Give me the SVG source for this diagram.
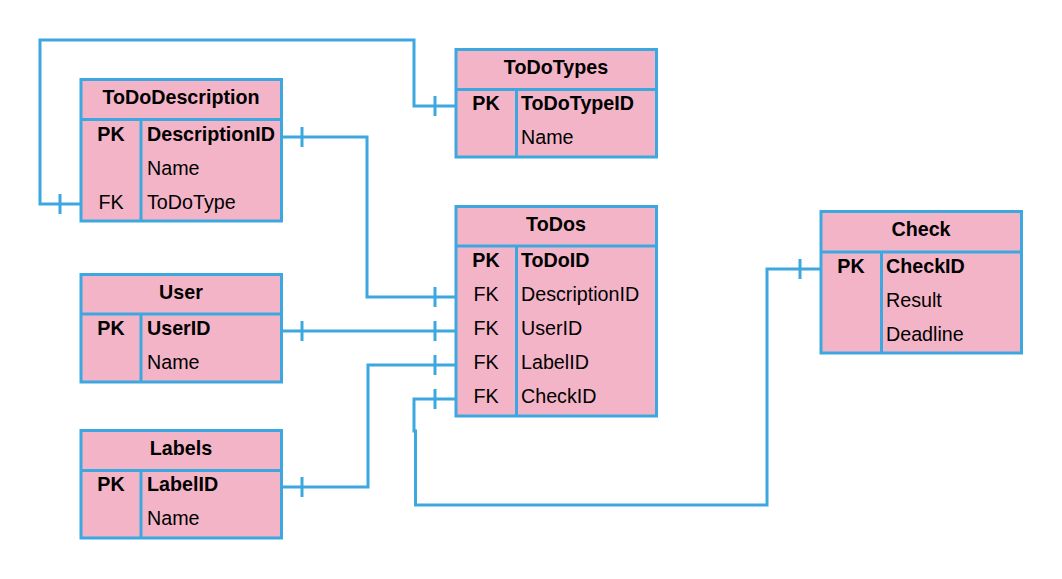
<svg xmlns="http://www.w3.org/2000/svg" width="1062" height="579" viewBox="0 0 1062 579">
<style>
.box{fill:#F4B4C8;stroke:#3DA8DF;stroke-width:3}
.sep{stroke:#3DA8DF;stroke-width:3;fill:none}
.con{stroke:#3DA8DF;stroke-width:3;fill:none}
text{font-family:"Liberation Sans",Arial,sans-serif;font-size:19.7px;fill:#000}
.h{font-weight:bold;text-anchor:middle}
.k{text-anchor:middle}
.b{font-weight:bold}
</style>
<rect width="1062" height="579" fill="#fff"/>
<g id="connectors">
<path class="con" d="M456,106 H414 V40 H40 V204 H81"/>
<path class="con" d="M435,96 V116 M60,194 V214"/>
<path class="con" d="M282,137 H367 V297 H456"/>
<path class="con" d="M302,127 V147 M435,287 V307"/>
<path class="con" d="M282,331 H456"/>
<path class="con" d="M302,321 V341 M435,321 V341"/>
<path class="con" d="M282,487 H368 V365 H456"/>
<path class="con" d="M302,477 V497 M435,355 V375"/>
<path class="con" d="M456,399 H414 V431 H415.5 V505 H767 V269 H821"/>
<path class="con" d="M435,389 V409 M800,259 V279"/>
</g>
<g id="ToDoDescription">
<rect class="box" x="81" y="79.5" width="200.5" height="141.5"/>
<path class="sep" d="M81,119.5 H281.5 M141,119.5 V221"/>
<text class="h" x="181" y="104">ToDoDescription</text>
<text class="k b" x="111" y="140.5">PK</text>
<text class="b" x="147" y="140.5">DescriptionID</text>
<text x="147" y="174.5">Name</text>
<text class="k" x="111" y="208.5">FK</text>
<text x="147" y="208.5">ToDoType</text>
</g>
<g id="ToDoTypes">
<rect class="box" x="456" y="49.5" width="200.5" height="107.5"/>
<path class="sep" d="M456,89.5 H656.5 M516.5,89.5 V157"/>
<text class="h" x="556" y="73.5">ToDoTypes</text>
<text class="k b" x="486" y="110">PK</text>
<text class="b" x="521" y="110">ToDoTypeID</text>
<text x="521" y="144">Name</text>
</g>
<g id="ToDos">
<rect class="box" x="456" y="206.5" width="200.5" height="209.5"/>
<path class="sep" d="M456,246 H656.5 M516.5,246 V416"/>
<text class="h" x="556" y="230.5">ToDos</text>
<text class="k b" x="486" y="267">PK</text>
<text class="b" x="521" y="267">ToDoID</text>
<text class="k" x="486" y="301">FK</text>
<text x="521" y="301">DescriptionID</text>
<text class="k" x="486" y="335">FK</text>
<text x="521" y="335">UserID</text>
<text class="k" x="486" y="369">FK</text>
<text x="521" y="369">LabelID</text>
<text class="k" x="486" y="403">FK</text>
<text x="521" y="403">CheckID</text>
</g>
<g id="Check">
<rect class="box" x="821" y="211.5" width="200.5" height="141.5"/>
<path class="sep" d="M821,252 H1021.5 M881.5,252 V353"/>
<text class="h" x="921" y="235.5">Check</text>
<text class="k b" x="851" y="272.5">PK</text>
<text class="b" x="886" y="272.5">CheckID</text>
<text x="886" y="306.5">Result</text>
<text x="886" y="340.5">Deadline</text>
</g>
<g id="User">
<rect class="box" x="81" y="274.5" width="200.5" height="107.5"/>
<path class="sep" d="M81,314 H281.5 M141,314 V382"/>
<text class="h" x="181" y="298.5">User</text>
<text class="k b" x="111" y="335">PK</text>
<text class="b" x="147" y="335">UserID</text>
<text x="147" y="369">Name</text>
</g>
<g id="Labels">
<rect class="box" x="81" y="430.5" width="200.5" height="107.5"/>
<path class="sep" d="M81,470.5 H281.5 M141,470.5 V538"/>
<text class="h" x="181" y="454.5">Labels</text>
<text class="k b" x="111" y="491">PK</text>
<text class="b" x="147" y="491">LabelID</text>
<text x="147" y="525">Name</text>
</g>
</svg>
